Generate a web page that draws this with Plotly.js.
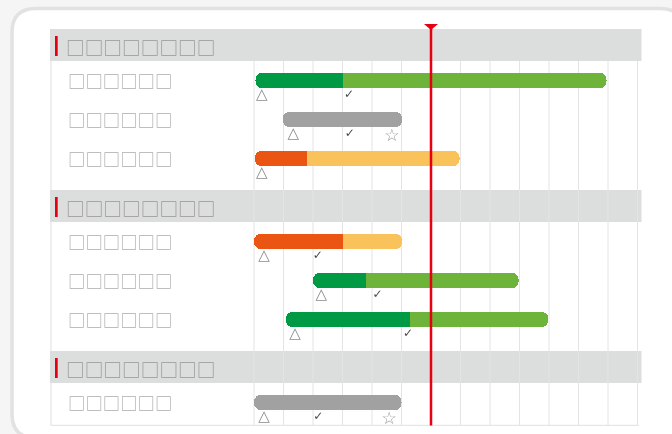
<!DOCTYPE html>
<html><head><meta charset="utf-8">
<script src="https://cdn.plot.ly/plotly-3.0.1.min.js"></script>
<style>html,body{margin:0;padding:0;background:#f4f5f4;}#chart{width:672px;height:434px;will-change:transform;}</style>
</head><body><div id="chart"></div>
<script>
// ---------------- DATA ----------------
const groupNames = ['□□□□□□□□', '□□□□□□□□', '□□□□□□□□'];
const taskNames = ['□□□□□□', '□□□□□□', '□□□□□□', '□□□□□□', '□□□□□□', '□□□□□□', '□□□□□□'];
const taskGroup = [0, 0, 0, 1, 1, 1, 2];
const taskStatus = ['green', 'gray', 'orange', 'orange', 'green', 'green', 'gray'];
const taskStart = [0.05, 0.97, 0.03, 0, 2, 1.08, 0];
const taskProgress = [3.03, null, 1.8, 3.03, 3.8, 5.3, null];
const taskEnd = [11.95, 5.03, 6.97, 5.03, 8.97, 9.98, 5];
const startMark = [0.26, 1.33, 0.26, 0.34, 2.28, 1.39, 0.34];
const checkMark = [3.22, 3.25, null, 2.16, 4.19, 5.22, 2.18];
const starMark = [null, 4.67, null, null, null, null, 4.58];
const periodTicks = [0, 1, 2, 3, 4, 5, 6, 7, 8, 9, 10, 11, 12, 13];
const todayValue = 6;

// ---------------- STYLE / LAYOUT ----------------
const W = 672, H = 434, ML = 50, MR = 30, MT = 20, MB = 8;
const PW = W - ML - MR, PH = H - MT - MB;
const unitPx = 29.5, zeroPx = 254;
const xRange = [(ML - zeroPx) / unitPx, (W - MR - zeroPx) / unitPx];
const pxX = px => (px - ML) / PW;          // pixel -> paper x
const pxY = py => (H - MB - py) / PH;      // pixel -> paper y
const pxToUnits = px => px / unitPx;

const colors = {
  green: ['#009944', '#6fb43a'],
  orange: ['#ea5514', '#fac25b'],
  gray: ['#a0a1a0', '#a0a1a0']
};
const headerH = 32, firstOffset = 19.5, rowPitch = 39, lastGap = 31.5, topY = 29;
const barThick = 15.5, barRadius = 7;

// compute vertical positions
const headerTops = [];
const rowY = [];
let cur = topY;
groupNames.forEach((g, gi) => {
  headerTops.push(cur);
  cur += headerH + firstOffset;
  const idx = taskGroup.map((t, i) => t === gi ? i : -1).filter(i => i >= 0);
  idx.forEach((i, k) => {
    rowY[i] = cur;
    if (k < idx.length - 1) cur += rowPitch;
  });
  cur += lastGap;
});
const bottomY = rowY[rowY.length - 1] + 23;
const gridTop = headerTops[0] + headerH;

const prog = taskProgress.map((p, i) => p != null ? i : -1).filter(i => i >= 0);
const capU = pxToUnits(barRadius + 1);

const traces = [
  { // full planned bar
    type: 'bar', orientation: 'h', y: rowY,
    base: taskStart, x: taskEnd.map((e, i) => e - taskStart[i]),
    width: barThick,
    marker: {color: taskStatus.map(s => colors[s][1]), cornerradius: barRadius, line: {width: 0}},
    hoverinfo: 'skip', showlegend: false
  },
  { // completed part (rounded)
    type: 'bar', orientation: 'h', y: prog.map(i => rowY[i]),
    base: prog.map(i => taskStart[i]), x: prog.map(i => taskProgress[i] - taskStart[i]),
    width: barThick,
    marker: {color: prog.map(i => colors[taskStatus[i]][0]), cornerradius: barRadius, line: {width: 0}},
    hoverinfo: 'skip', showlegend: false
  },
  { // completed part, square at the progress end
    type: 'bar', orientation: 'h', y: prog.map(i => rowY[i]),
    base: prog.map(i => taskStart[i] + capU), x: prog.map(i => taskProgress[i] - taskStart[i] - capU),
    width: barThick,
    marker: {color: prog.map(i => colors[taskStatus[i]][0]), cornerradius: 0, line: {width: 0}},
    hoverinfo: 'skip', showlegend: false
  }
];

function markTrace(vals, glyph, dy, size, color) {
  const xs = [], ys = [];
  vals.forEach((v, i) => { if (v != null) { xs.push(v); ys.push(rowY[i] + dy); } });
  return {
    type: 'scatter', mode: 'text', x: xs, y: ys, text: xs.map(() => glyph),
    textposition: 'middle center', cliponaxis: false,
    textfont: {family: 'DejaVu Sans', size: size, color: color},
    hoverinfo: 'skip', showlegend: false
  };
}
traces.push(markTrace(startMark, '△', 15, 15, '#8a8a8a'));
traces.push(markTrace(checkMark, '✓', 14.5, 12, '#4a4a4a'));
traces.push(markTrace(starMark, '☆', 17.5, 17, '#999999'));

// shapes
const shapes = [];
(function () {
  const x0 = 12, x1 = 684, y0 = 8.5, y1 = 438, r = 24;
  const P = (x, y) => pxX(x).toFixed(5) + ',' + pxY(y).toFixed(5);
  const path = 'M' + P(x0 + r, y0) + ' L' + P(x1 - r, y0) + ' Q' + P(x1, y0) + ' ' + P(x1, y0 + r) +
    ' L' + P(x1, y1 - r) + ' Q' + P(x1, y1) + ' ' + P(x1 - r, y1) +
    ' L' + P(x0 + r, y1) + ' Q' + P(x0, y1) + ' ' + P(x0, y1 - r) +
    ' L' + P(x0, y0 + r) + ' Q' + P(x0, y0) + ' ' + P(x0 + r, y0) + ' Z';
  shapes.push({type: 'path', xref: 'paper', yref: 'paper', path: path, fillcolor: '#ffffff',
    line: {color: '#e1e2e1', width: 3.5}, layer: 'below'});
})();
periodTicks.forEach(t => shapes.push({type: 'line', xref: 'x', yref: 'y', x0: t, x1: t, y0: gridTop, y1: bottomY,
  line: {color: '#e4e4e4', width: 1}, layer: 'below'}));
shapes.push({type: 'line', xref: 'paper', yref: 'y', x0: pxX(51), x1: pxX(51), y0: gridTop, y1: bottomY,
  line: {color: '#e4e4e4', width: 1.2}, layer: 'below'});
shapes.push({type: 'line', xref: 'paper', yref: 'y', x0: pxX(51), x1: pxX(638.5), y0: bottomY, y1: bottomY,
  line: {color: '#e6e6e6', width: 1.5}, layer: 'below'});
headerTops.forEach(ht => {
  shapes.push({type: 'rect', xref: 'paper', yref: 'y', x0: 0, x1: pxX(641.5), y0: ht, y1: ht + headerH,
    fillcolor: '#dcdddd', line: {width: 0}, layer: 'below'});
  shapes.push({type: 'rect', xref: 'paper', yref: 'y', x0: pxX(55), x1: pxX(57.7), y0: ht + 7, y1: ht + 27,
    fillcolor: '#e60012', line: {width: 0}, layer: 'below'});
});
shapes.push({type: 'line', xref: 'x', yref: 'y', x0: todayValue, x1: todayValue, y0: 25, y1: bottomY,
  line: {color: '#e60012', width: 2.5}, layer: 'above'});
const tw = pxToUnits(7);
shapes.push({type: 'path', xref: 'x', yref: 'y',
  path: 'M' + (todayValue - tw) + ',24 L' + (todayValue + tw) + ',24 L' + todayValue + ',30 Z',
  fillcolor: '#e60012', line: {width: 0}, layer: 'above'});

const annotations = [];
groupNames.forEach((g, gi) => annotations.push({
  xref: 'paper', yref: 'y', x: pxX(63.5), y: headerTops[gi] + headerH / 2 + 1.5, xanchor: 'left', yanchor: 'middle',
  text: g, showarrow: false, font: {family: 'Noto Sans CJK SC', size: 18.7, color: '#979797'}
}));
taskNames.forEach((t, i) => annotations.push({
  xref: 'paper', yref: 'y', x: pxX(66), y: rowY[i] - 0.5, xanchor: 'left', yanchor: 'middle',
  text: t, showarrow: false, font: {family: 'Noto Sans CJK SC', size: 17.4, color: '#acacac'}
}));

const layout = {
  width: W, height: H,
  margin: {l: ML, r: MR, t: MT, b: MB, pad: 0},
  paper_bgcolor: '#f4f5f4', plot_bgcolor: 'rgba(0,0,0,0)',
  barmode: 'overlay', bargap: 0,
  showlegend: false,
  xaxis: {range: xRange, showgrid: false, zeroline: false, showticklabels: false, ticks: '', showline: false, fixedrange: true},
  yaxis: {range: [H - MB, MT], showgrid: false, zeroline: false, showticklabels: false, ticks: '', showline: false, fixedrange: true},
  shapes: shapes, annotations: annotations
};
Plotly.newPlot('chart', traces, layout, {displayModeBar: false, staticPlot: true});
</script></body></html>
